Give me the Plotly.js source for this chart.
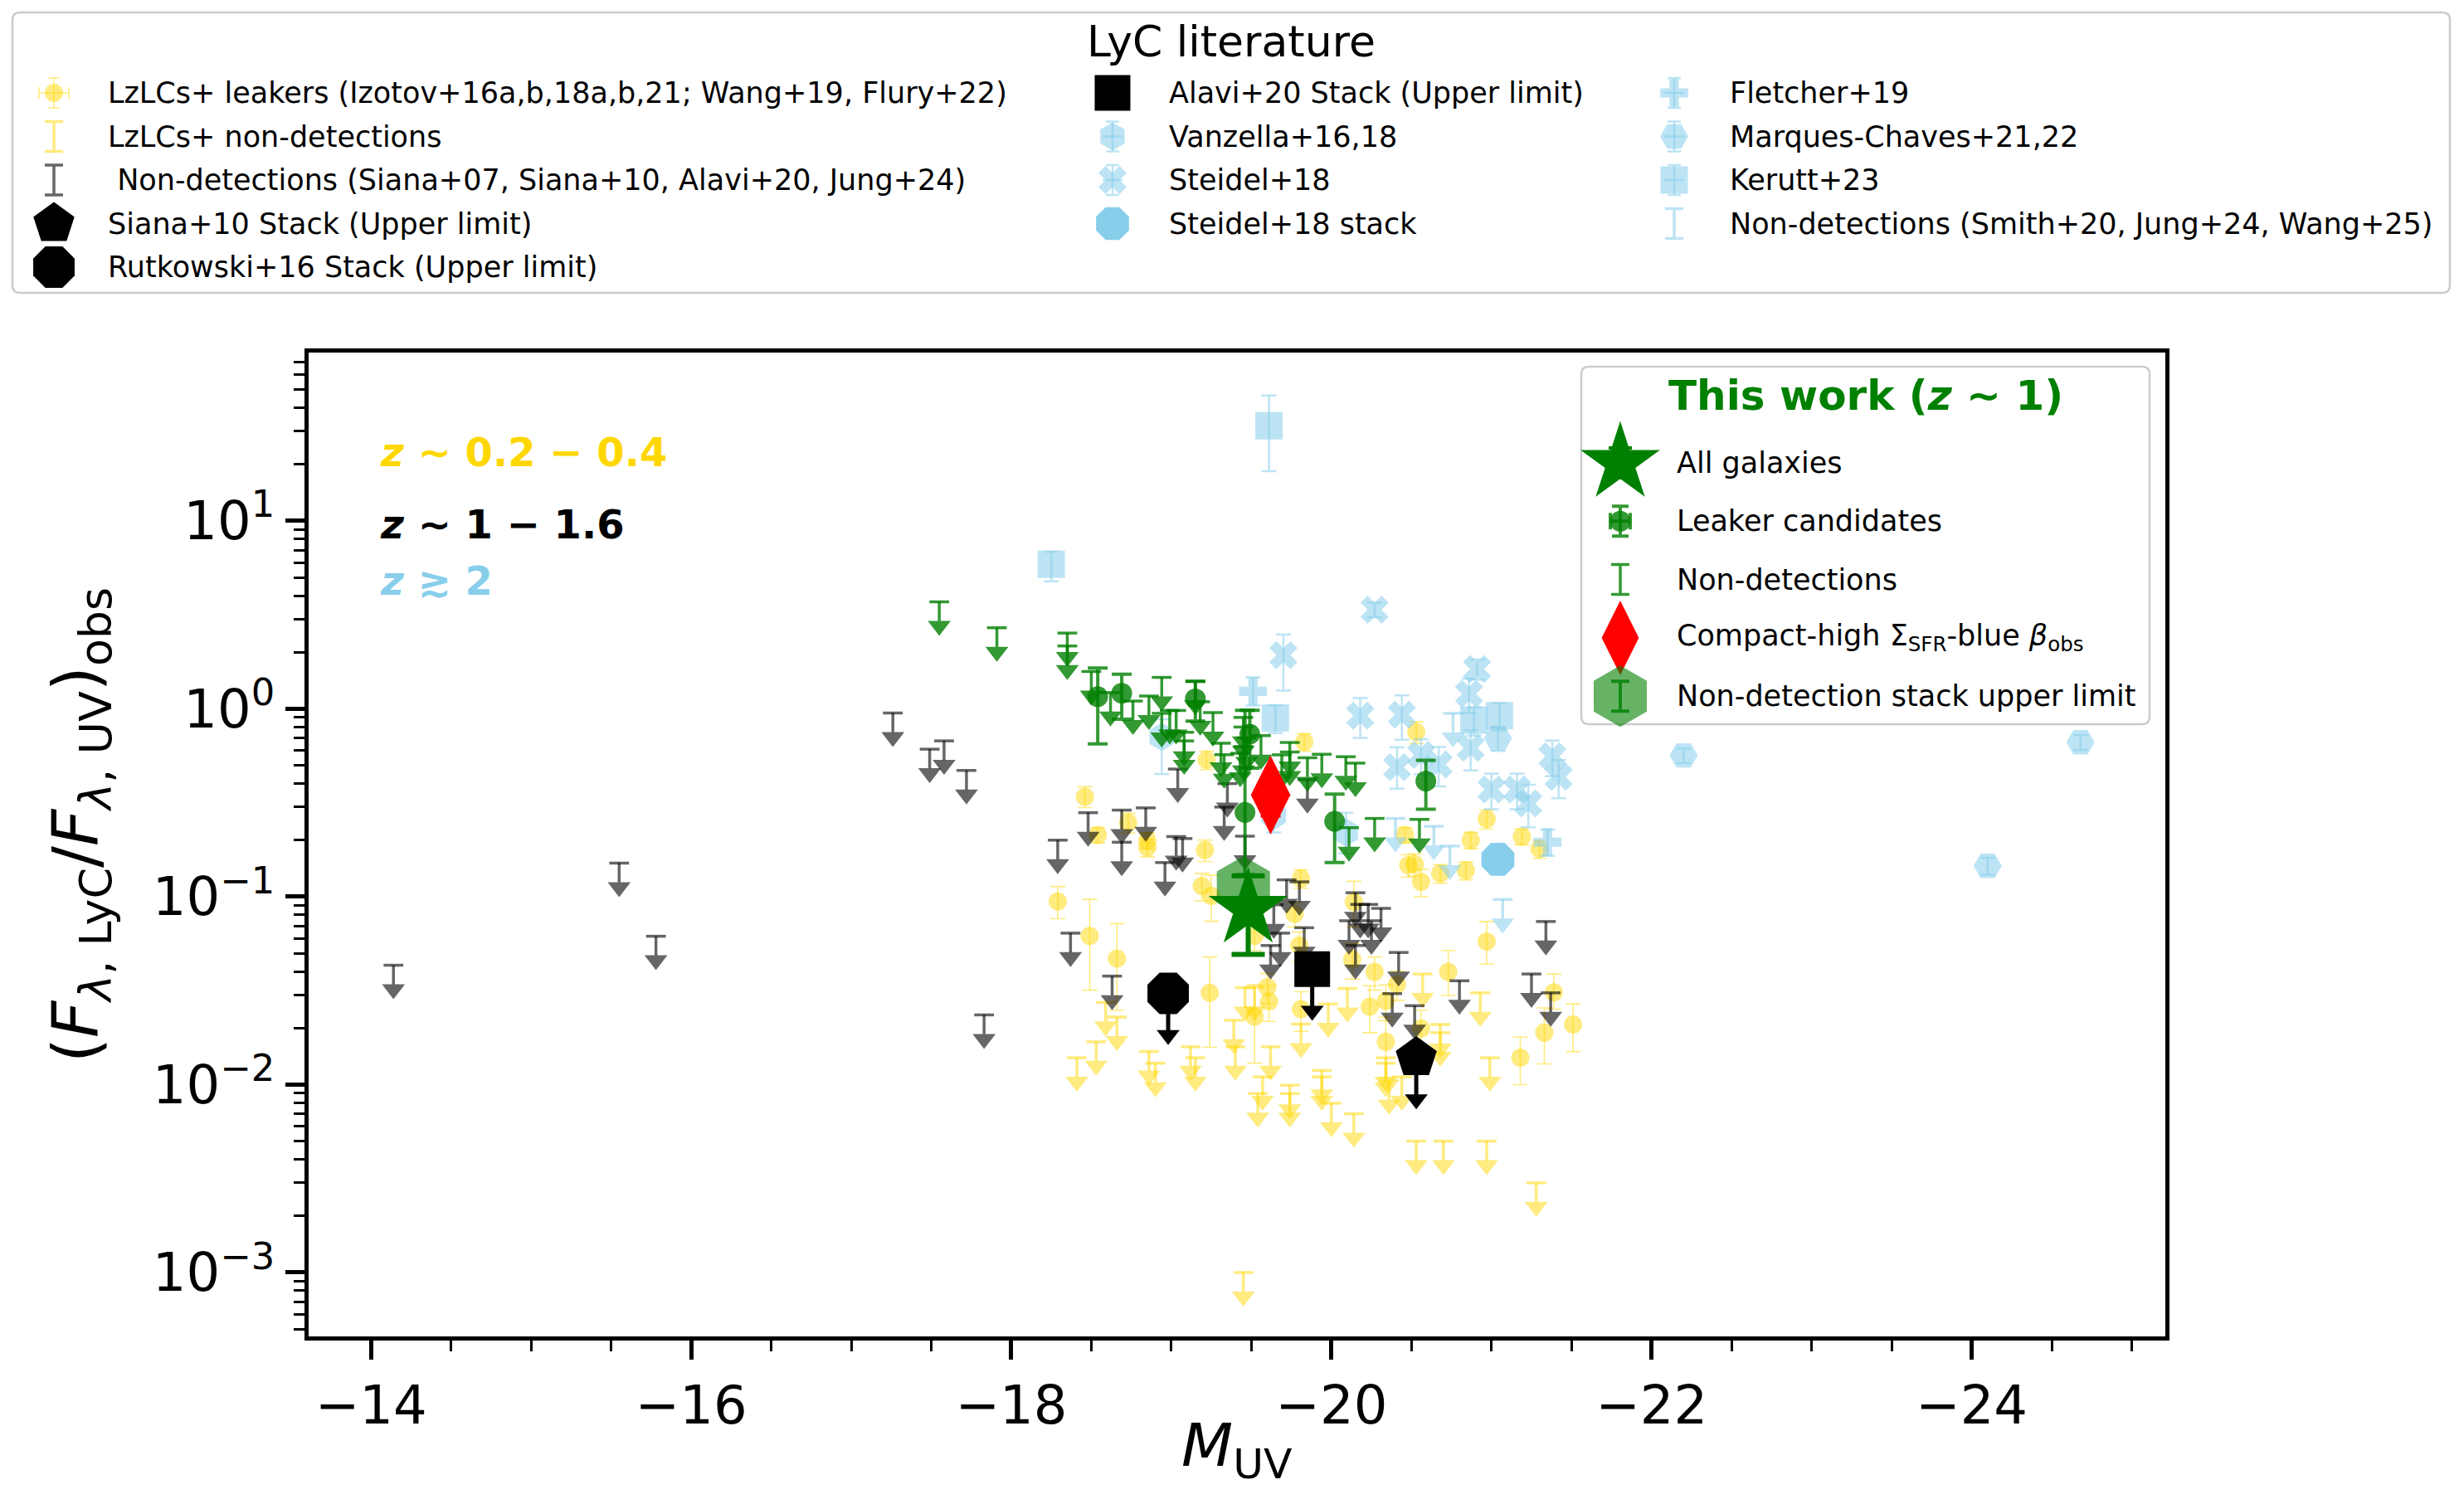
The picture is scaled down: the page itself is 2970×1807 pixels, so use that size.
<!DOCTYPE html>
<html>
<head>
<meta charset="utf-8">
<script src="https://cdn.plot.ly/plotly-3.0.1.min.js"></script>
<style>html,body{margin:0;padding:0;background:#fff;}</style>
</head>
<body>
<div id="chart" style="width:2970px;height:1807px;"></div>
<script>
// ================= DATA =================
// LzLCS+ leakers (z ~ 0.2-0.4): M_UV, escape ratio, upper / lower errors
const lzLeakM = [-18.29,-18.49,-18.66,-19.24,-19.19,-19.25,-19.21,-18.85,-18.85,-18.54,
                 -19.52,-19.60,-19.61,-19.52,-19.81,-19.77,-19.80,-19.81,-20.14,-20.13,
                 -20.24,-20.27,-20.34,-20.48,-20.41,-20.34,-20.56,-20.73,-20.97,-21.39,
                 -21.33,-21.51,-21.18,-20.46,-20.87,-21.19,-21.30,-20.52,-20.56,-20.68,
                 -20.84,-20.53,-20.97,-18.46,-19.83,-19.22,-18.73];
const lzLeakF = [0.0944,0.0618,0.0469,0.0308,0.114,0.101,0.177,0.199,0.183,0.213,
                 0.0618,0.033,0.0277,0.023,0.125,0.081,0.055,0.0252,0.0938,0.0464,
                 0.026,0.0398,0.0169,0.147,0.0341,0.0279,0.0199,0.0398,0.0578,0.031,
                 0.0189,0.0209,0.0139,0.213,0.20,0.209,0.18,0.149,0.12,0.133,
                 0.138,0.753,0.259,0.34,0.667,0.535,0.248];
const lzLeakErrHi = [0.019,0.035,0.025,0.017,0.019,0.029,0.023,0.02,0.02,0.02,
                     0.01,0.006,0.006,0.011,0.014,0.012,0.01,0.006,0.027,0.01,
                     0.0076,0.008,0.006,0.02,0.006,0.006,0.005,0.012,0.016,0.0078,
                     0.0067,0.006,0.004,0.02,0.02,0.02,0.02,0.02,0.02,0.015,
                     0.015,0.1,0.03,0.045,0.07,0.06,0.03];
const lzLeakErrLo = [0.018,0.030,0.022,0.015,0.019,0.027,0.023,0.02,0.02,0.02,
                     0.01,0.006,0.006,0.010,0.014,0.012,0.01,0.006,0.025,0.01,
                     0.0071,0.008,0.006,0.02,0.006,0.006,0.005,0.010,0.014,0.0058,
                     0.006,0.0059,0.0039,0.02,0.02,0.02,0.02,0.02,0.02,0.015,
                     0.015,0.1,0.03,0.042,0.07,0.06,0.03];

// LzLCS+ non-detections (upper limits)
const lzLimM = [-18.41,-18.53,-18.66,-18.59,-18.86,-18.90,-19.12,-19.15,-19.39,-19.40,
                -19.46,-19.52,-19.62,-19.57,-19.54,-19.74,-19.74,-19.81,-19.94,-19.94,
                -19.98,-20.00,-20.14,-20.10,-20.34,-20.34,-20.36,-20.44,-20.57,-20.93,
                -20.68,-20.68,-20.99,-20.53,-20.70,-20.97,-21.28,-19.45];
const lzLimF = [0.0139,0.0169,0.0229,0.0274,0.015,0.013,0.0159,0.0139,0.022,0.0159,
                0.0328,0.033,0.0159,0.011,0.00896,0.00993,0.00896,0.021,0.0119,0.011,
                0.0269,0.00796,0.007,0.0325,0.0139,0.013,0.0105,0.011,0.0388,0.0308,
                0.0209,0.0189,0.0139,0.005,0.005,0.005,0.003,0.001];

// z ~ 1-1.6 non-detections (Siana+07, Siana+10, Alavi+20, Jung+24)
const midLimM = [-14.14,-15.55,-15.78,-17.83,-17.26,-17.49,-17.58,-17.72,-18.48,-18.29,
                 -18.69,-18.69,-18.84,-19.03,-19.07,-18.96,-19.04,-19.35,-19.85,-19.33,
                 -19.46,-18.37,-18.63,-19.64,-19.72,-19.80,-19.68,-19.62,-19.83,-20.15,
                 -20.18,-20.23,-20.31,-20.11,-20.25,-20.15,-20.42,-20.38,-20.52,-20.80,
                 -21.34,-21.25,-21.37];
const midLimF = [0.0432,0.151,0.0616,0.0235,0.95,0.61,0.675,0.47,0.28,0.20,
                 0.289,0.195,0.297,0.209,0.204,0.152,0.478,0.40,0.42,0.30,
                 0.21,0.064,0.0378,0.0906,0.123,0.120,0.064,0.055,0.0684,0.105,
                 0.091,0.091,0.0867,0.0745,0.0745,0.055,0.0505,0.0305,0.0263,0.0357,
                 0.0738,0.0388,0.0308];

// Stacked upper limits at z ~ 1
const sianaStackM = [-20.53],    sianaStackF = [0.0139];
const rutkowskiStackM = [-18.98], rutkowskiStackF = [0.0306];
const alaviStackM = [-19.88],    alaviStackF = [0.0412];

// z >~ 2 literature
const vanzellaM = [-18.94,-20.09,-19.64], vanzellaF = [0.71,0.22,0.27];
const vanzellaErrHi = [0.17,0.06,0.05],  vanzellaErrLo = [0.26,0.05,0.05];
const steidelM = [-20.27,-20.44,-20.18,-19.70,-20.41,-20.67,-20.56,-20.91,-20.86,-20.87,
                  -21.00,-21.16,-21.23,-21.38,-21.42];
const steidelF = [3.37,0.93,0.92,1.93,0.489,0.506,0.569,1.63,1.20,0.62,
                  0.372,0.372,0.314,0.558,0.434];
const steidelErrHi = [0.3,0.25,0.22,0.55,0.136,0.12,0.12,0.2,0.25,0.15,
                      0.08,0.08,0.08,0.12,0.1];
const steidelErrLo = [0.3,0.245,0.22,0.68,0.113,0.12,0.12,0.2,0.25,0.15,
                      0.08,0.08,0.08,0.12,0.1];
const steidelStackM = [-21.04], steidelStackF = [0.158];
const fletcherM = [-19.51,-21.35], fletcherF = [1.24,0.195];
const fletcherErrHi = [0.23,0.033], fletcherErrLo = [0.20,0.03];
const marquesM = [-21.04,-22.20,-24.68,-24.10], marquesF = [0.697,0.565,0.664,0.146];
const marquesErr = [0.1,0.05,0.06,0.015];
const keruttM = [-18.25,-19.61,-19.65,-20.89,-21.05], keruttF = [5.87,32.1,0.893,0.87,0.92];
const keruttErrHi = [1.0,14.4,0.15,0.15,0.15], keruttErrLo = [1.1,13.7,0.15,0.15,0.15];
const hizLimM = [-20.76,-20.40,-20.64,-20.74,-21.07];
const hizLimF = [0.946,0.261,0.237,0.186,0.0967];

// This work (z ~ 1)
const twLeakM = [-18.54,-18.69,-19.15,-19.49,-19.46,-20.02,-20.59];
const twLeakF = [1.16,1.21,1.13,0.733,0.281,0.252,0.412];
const twLeakErrHi = [0.49,0.32,0.27,0.25,0.70,0.10,0.12];
const twLeakErrLo = [0.51,0.33,0.27,0.25,0.15,0.10,0.12];
const twLimM = [-17.55,-17.91,-18.35,-18.35,-18.50,-18.62,-18.76,-18.86,-18.94,-18.94,
                -18.99,-19.03,-19.08,-19.08,-19.15,-19.18,-19.26,-19.31,-19.33,-19.45,
                -19.45,-19.47,-19.45,-19.43,-19.56,-19.69,-19.74,-19.74,-19.85,-19.94,
                -20.09,-20.15,-20.27,-20.11,-20.55];
const twLimF = [3.71,2.70,2.53,2.16,1.58,1.22,1.10,1.17,1.47,0.946,
                0.98,0.98,0.75,0.675,1.40,1.09,0.955,0.656,0.57,0.90,
                0.80,0.70,0.63,0.58,0.72,0.569,0.662,0.589,0.549,0.573,
                0.556,0.514,0.261,0.233,0.258];
const twAllM = [-19.48], twAllF = [0.0863], twAllErrHi = [0.043], twAllErrLo = [0.037];
const twStackM = [-19.45], twStackF = [0.113];
const twCompactM = [-19.62], twCompactF = [0.348], twCompactErr = [0.08];

// Axis ticks
const xTickVals = [-14,-16,-18,-20,-22,-24];
const xTickText = ['\u221214','\u221216','\u221218','\u221220','\u221222','\u221224'];
const yTickVals = [0.001,0.01,0.1,1,10];
const yTickText = ['10<sup>\u22123</sup>','10<sup>\u22122</sup>','10<sup>\u22121</sup>','10<sup>0</sup>','10<sup>1</sup>'];

// Legend labels
const litCol1 = ['LzLCs+ leakers (Izotov+16a,b,18a,b,21; Wang+19, Flury+22)',
                 'LzLCs+ non-detections',
                 '\u00a0Non-detections (Siana+07, Siana+10, Alavi+20, Jung+24)',
                 'Siana+10 Stack (Upper limit)',
                 'Rutkowski+16 Stack (Upper limit)'];
const litCol2 = ['Alavi+20 Stack (Upper limit)','Vanzella+16,18','Steidel+18','Steidel+18 stack'];
const litCol3 = ['Fletcher+19','Marques-Chaves+21,22','Kerutt+23','Non-detections (Smith+20, Jung+24, Wang+25)'];
const twLabels = ['All galaxies','Leaker candidates','Non-detections',
                  'Compact-high \u03a3<sub>SFR</sub>-blue <i>\u03b2</i><sub>obs</sub>',
                  'Non-detection stack upper limit'];

// ================= STYLE =================
const W = 2970, H = 1807;
const FONT = 'DejaVu Sans, Verdana, sans-serif';
const PLOT = {left: 372, right: 2610, top: 425, bottom: 1611};
const GOLD = 'rgba(255,215,0,0.5)';
const GREY = 'rgba(0,0,0,0.6)';
const SKY = 'rgba(135,206,235,0.55)';
const SKY_SOLID = '#87CEEB';
const GREEN = 'rgba(0,128,0,0.8)';
const GREEN_SOLID = '#008000';
const GREEN_HEX = 'rgba(0,128,0,0.6)';
const LEG_FONT = 35;
// upper-limit arrow geometry (fractions of the limit value)
const STEM_END = 0.79, HEAD_POS = 0.745, STACK_HEAD = 0.6;

const traces = [];
function add(t) {
  traces.push(Object.assign({type: 'scatter', mode: 'markers', hoverinfo: 'skip',
                             showlegend: false, xaxis: 'x', yaxis: 'y'}, t));
}
function upperLimits(xs, ys, color) {
  add({x: xs, y: ys,
       marker: {symbol: 'line-ew', size: 17, color: color, line: {color: color, width: 3.5}},
       error_y: {type: 'data', symmetric: false, array: ys.map(() => 0),
                 arrayminus: ys.map(v => v * (1 - STEM_END)), width: 0, thickness: 3.5, color: color}});
  add({x: xs, y: ys.map(v => v * HEAD_POS),
       marker: {symbol: 'triangle-down', size: 24, color: color}});
}
function detections(xs, ys, hi, lo, marker, errColor, thick, cap) {
  add({x: xs, y: ys, marker: marker,
       error_y: {type: 'data', symmetric: false, array: hi, arrayminus: lo,
                 color: errColor, thickness: thick, width: cap}});
}
function stackLimit(xs, ys, symbol, size) {
  add({x: xs, y: ys.map(v => v * STACK_HEAD),
       marker: {symbol: 'triangle-down', size: 24, color: 'black'},
       error_y: {type: 'data', symmetric: false, array: ys.map(v => v * (1 - STACK_HEAD)),
                 arrayminus: ys.map(() => 0), width: 0, thickness: 5, color: 'black'}});
  add({x: xs, y: ys, marker: {symbol: symbol, size: size, color: 'black'}});
}

// ---- data layers (drawing order) ----
detections(lzLeakM, lzLeakF, lzLeakErrHi, lzLeakErrLo,
           {symbol: 'circle', size: 22, color: GOLD}, GOLD, 1.6, 9);
upperLimits(lzLimM, lzLimF, GOLD);
upperLimits(midLimM, midLimF, GREY);
stackLimit(sianaStackM, sianaStackF, 'pentagon', 52);
stackLimit(rutkowskiStackM, rutkowskiStackF, 'octagon', 54);
stackLimit(alaviStackM, alaviStackF, 'square', 43);
detections(vanzellaM, vanzellaF, vanzellaErrHi, vanzellaErrLo,
           {symbol: 'hexagon', size: 34, color: SKY}, SKY, 2.5, 9);
detections(steidelM, steidelF, steidelErrHi, steidelErrLo,
           {symbol: 'x', size: 30, color: SKY}, SKY, 2.5, 9);
detections(fletcherM, fletcherF, fletcherErrHi, fletcherErrLo,
           {symbol: 'cross', size: 28, color: SKY}, SKY, 2.5, 9);
detections(marquesM, marquesF, marquesErr, marquesErr,
           {symbol: 'hexagon2', size: 34, color: SKY}, SKY, 2.5, 9);
detections(keruttM, keruttF, keruttErrHi, keruttErrLo,
           {symbol: 'square', size: 33, color: SKY}, SKY, 2.5, 9);
upperLimits(hizLimM, hizLimF, SKY);
add({x: steidelStackM, y: steidelStackF, marker: {symbol: 'octagon', size: 43, color: SKY_SOLID}});
upperLimits(twLimM, twLimF, GREEN);
detections(twLeakM, twLeakF, twLeakErrHi, twLeakErrLo,
           {symbol: 'circle', size: 25, color: GREEN}, GREEN, 4, 12);
add({x: twStackM, y: twStackF, marker: {symbol: 'hexagon', size: 74, color: GREEN_HEX}});
detections(twAllM, twAllF, twAllErrHi, twAllErrLo,
           {symbol: 'star', size: 72, color: GREEN_SOLID}, GREEN_SOLID, 6, 20);
detections(twCompactM, twCompactF, twCompactErr, twCompactErr,
           {symbol: 'diamond-tall', size: 68, color: 'red'}, 'red', 3, 12);

// ================= LEGENDS (drawn on a full-figure pixel axis) =================
const LIT_BOX = {x0: 15, y0: 15, x1: 2953, y1: 353};
const LIT_ICON_X = [65, 1341, 2018], LIT_TEXT_X = [128, 1407, 2083];
const LIT_ROW_Y0 = 112, LIT_ROW_DY = 52.5;
const TW_BOX = {x0: 1906, y0: 442, x1: 2591, y1: 873};
const TW_ICON_X = 1953, TW_TEXT_X = 2019, TW_ROW_Y0 = 558, TW_ROW_DY = 70.3;

function icon(px, py, marker, ey, ex) {
  const t = {type: 'scatter', mode: 'markers', x: [px], y: [py], xaxis: 'x2', yaxis: 'y2',
             hoverinfo: 'skip', showlegend: false, cliponaxis: false, marker: marker};
  if (ey) t.error_y = Object.assign({type: 'constant', symmetric: true}, ey);
  if (ex) t.error_x = Object.assign({type: 'constant', symmetric: true}, ex);
  traces.push(t);
}
const NOMARK = {size: 1, color: 'rgba(0,0,0,0)'};
const litIcons = [
  [ // column 1
    [{symbol: 'circle', size: 22, color: GOLD}, {value: 18, width: 7, thickness: 1.6, color: GOLD}, {value: 18, width: 7, thickness: 1.6, color: GOLD}],
    [NOMARK, {value: 18, width: 11, thickness: 3.5, color: GOLD}],
    [NOMARK, {value: 18, width: 11, thickness: 3.5, color: GREY}],
    [{symbol: 'pentagon', size: 52, color: 'black'}],
    [{symbol: 'octagon', size: 54, color: 'black'}]
  ],
  [ // column 2
    [{symbol: 'square', size: 43, color: 'black'}],
    [{symbol: 'hexagon', size: 34, color: SKY}, {value: 18, width: 8, thickness: 2.5, color: SKY}, {value: 12, width: 0, thickness: 2.5, color: SKY}],
    [{symbol: 'x', size: 30, color: SKY}, {value: 18, width: 8, thickness: 2.5, color: SKY}, {value: 12, width: 0, thickness: 2.5, color: SKY}],
    [{symbol: 'octagon', size: 43, color: SKY_SOLID}]
  ],
  [ // column 3
    [{symbol: 'cross', size: 28, color: SKY}, {value: 18, width: 8, thickness: 2.5, color: SKY}, {value: 12, width: 0, thickness: 2.5, color: SKY}],
    [{symbol: 'hexagon2', size: 34, color: SKY}, {value: 18, width: 8, thickness: 2.5, color: SKY}, {value: 12, width: 0, thickness: 2.5, color: SKY}],
    [{symbol: 'square', size: 33, color: SKY}, {value: 18, width: 8, thickness: 2.5, color: SKY}, {value: 12, width: 0, thickness: 2.5, color: SKY}],
    [NOMARK, {value: 18, width: 11, thickness: 3.5, color: SKY}]
  ]
];
const twIcons = [
  [{symbol: 'star', size: 72, color: GREEN_SOLID}, {value: 18, width: 14, thickness: 4, color: GREEN_SOLID}],
  [{symbol: 'circle', size: 25, color: GREEN}, {value: 18, width: 10, thickness: 4, color: GREEN}, {value: 12, width: 10, thickness: 4, color: GREEN}],
  [NOMARK, {value: 18, width: 11, thickness: 3.5, color: GREEN}],
  [{symbol: 'diamond-tall', size: 64, color: 'red'}],
  [{symbol: 'hexagon', size: 74, color: GREEN_HEX}, {value: 18, width: 11, thickness: 4, color: GREEN}]
];

const annotations = [];
function label(px, py, text, opts) {
  annotations.push(Object.assign({xref: 'x2', yref: 'y2', x: px, y: py, text: text, showarrow: false,
    xanchor: 'left', yanchor: 'middle', font: {family: FONT, size: LEG_FONT, color: 'black'}}, opts || {}));
}
[litCol1, litCol2, litCol3].forEach((col, c) => {
  col.forEach((txt, r) => {
    const py = LIT_ROW_Y0 + r * LIT_ROW_DY;
    const spec = litIcons[c][r];
    icon(LIT_ICON_X[c], py, spec[0], spec[1], spec[2]);
    label(LIT_TEXT_X[c], py, txt);
  });
});
label((LIT_BOX.x0 + LIT_BOX.x1) / 2, 50, 'LyC literature',
      {xanchor: 'center', font: {family: FONT, size: 52, color: 'black'}});
twLabels.forEach((txt, r) => {
  const py = TW_ROW_Y0 + r * TW_ROW_DY;
  const spec = twIcons[r];
  icon(TW_ICON_X, py, spec[0], spec[1], spec[2]);
  label(TW_TEXT_X, py, txt);
});
label((TW_BOX.x0 + TW_BOX.x1) / 2, 477, '<b>This work (<i>z</i> \u223c 1)</b>',
      {xanchor: 'center', font: {family: FONT, size: 50, color: GREEN_SOLID}});

// redshift labels inside the axes
label(456, 545, '<b><i>z</i> \u223c 0.2 \u2212 0.4</b>', {font: {family: FONT, size: 48, color: '#FFD700'}});
label(456, 632, '<b><i>z</i> \u223c 1 \u2212 1.6</b>', {font: {family: FONT, size: 48, color: 'black'}});
label(456, 700, '<b><i>z</i> \u2273 2</b>', {font: {family: FONT, size: 48, color: SKY_SOLID}});

// axis titles
label((PLOT.left + PLOT.right) / 2, 1747, '<i>M</i><sub>UV</sub>',
      {xanchor: 'center', font: {family: FONT, size: 72, color: 'black'}});
label(97, (PLOT.top + PLOT.bottom) / 2 - 23,
      '(<i>F</i><sub><i>\u03bb</i>, LyC</sub>/<i>F</i><sub><i>\u03bb</i>, UV</sub>)<sub>obs</sub>',
      {xanchor: 'center', textangle: -90, font: {family: FONT, size: 77, color: 'black'}});

function roundRect(b, r) {
  return `M${b.x0 + r},${b.y0} L${b.x1 - r},${b.y0} Q${b.x1},${b.y0} ${b.x1},${b.y0 + r} ` +
         `L${b.x1},${b.y1 - r} Q${b.x1},${b.y1} ${b.x1 - r},${b.y1} L${b.x0 + r},${b.y1} ` +
         `Q${b.x0},${b.y1} ${b.x0},${b.y1 - r} L${b.x0},${b.y0 + r} Q${b.x0},${b.y0} ${b.x0 + r},${b.y0} Z`;
}

// minor ticks
const xMinor = [];
for (let v = -13.5; v >= -25; v -= 0.5) if (Math.abs(v % 2) > 1e-6) xMinor.push(v);
const yMinor = [];
for (let e = -4; e <= 1; e++) for (let d = 2; d <= 9; d++) yMinor.push(d * Math.pow(10, e));

const axisCommon = {
  ticks: 'outside', ticklen: 23, tickwidth: 5, tickcolor: 'black',
  showline: true, linewidth: 5, linecolor: 'black', mirror: true,
  showgrid: false, zeroline: false, automargin: false,
  tickfont: {family: FONT, size: 64, color: 'black'}
};
const hiddenAxis = {domain: [0, 1], visible: false, showticklabels: false, ticks: '',
                    showgrid: false, zeroline: false, showline: false, fixedrange: true};
const layout = {
  width: W, height: H,
  margin: {l: 0, r: 0, t: 0, b: 0, pad: 0},
  paper_bgcolor: 'white', plot_bgcolor: 'rgba(0,0,0,0)',
  showlegend: false,
  font: {family: FONT, color: 'black'},
  xaxis: Object.assign({}, axisCommon, {
    domain: [PLOT.left / W, PLOT.right / W], anchor: 'y',
    range: [-13.61, -25.21],
    tickmode: 'array', tickvals: xTickVals, ticktext: xTickText,
    minor: {tickmode: 'array', tickvals: xMinor, ticks: 'outside', ticklen: 13, tickwidth: 3, tickcolor: 'black'}
  }),
  yaxis: Object.assign({}, axisCommon, {
    domain: [1 - PLOT.bottom / H, 1 - PLOT.top / H], anchor: 'x',
    type: 'log', range: [-3.34, 1.896],
    tickmode: 'array', tickvals: yTickVals, ticktext: yTickText,
    minor: {tickmode: 'array', tickvals: yMinor, ticks: 'outside', ticklen: 13, tickwidth: 3, tickcolor: 'black'}
  }),
  xaxis2: Object.assign({}, hiddenAxis, {range: [0, W], anchor: 'y2'}),
  yaxis2: Object.assign({}, hiddenAxis, {range: [H, 0], anchor: 'x2'}),
  shapes: [
    {type: 'path', xref: 'x2', yref: 'y2', path: roundRect(LIT_BOX, 9),
     line: {color: '#cccccc', width: 2.5}, fillcolor: 'white', layer: 'below'},
    {type: 'path', xref: 'x2', yref: 'y2', path: roundRect(TW_BOX, 9),
     line: {color: '#cccccc', width: 2.5}, fillcolor: 'rgba(255,255,255,0.8)', layer: 'below'}
  ],
  annotations: annotations
};

Plotly.newPlot('chart', traces, layout, {staticPlot: true, displayModeBar: false});
</script>
</body>
</html>
